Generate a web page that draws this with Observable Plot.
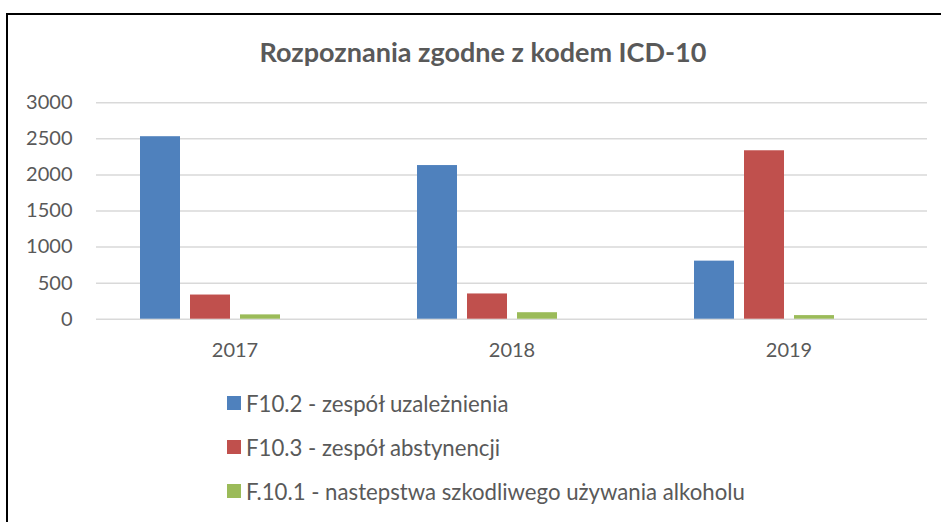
<!DOCTYPE html>
<html>
<head>
<meta charset="utf-8">
<script src="https://cdn.jsdelivr.net/npm/d3@7"></script>
<script src="https://cdn.jsdelivr.net/npm/@observablehq/plot@0.6"></script>
<style>
  html, body { margin: 0; padding: 0; background: #fff; }
  #chart { position: relative; width: 941px; height: 522px; overflow: hidden; font-family: Lato, "Liberation Sans", sans-serif; color: #595959; }
  #frame { position: absolute; left: 6px; top: 13px; width: 940px; height: 520px; border-top: 2px solid #000; border-left: 2px solid #000; }
  #title { position: absolute; left: 0; width: 966px; top: 35px; text-align: center; font-weight: bold; font-size: 27px; line-height: 34px; color: #595959; }
  #plot { position: absolute; left: 0; top: 80px; }
  .leg { position: absolute; left: 227px; height: 24px; display: flex; align-items: center; font-size: 22.2px; white-space: nowrap; }
  .leg span.sw { display: inline-block; width: 14px; height: 14px; margin-right: 5px; }
</style>
</head>
<body>
<div id="chart">
  <div id="frame"></div>
  <div id="title">Rozpoznania zgodne z kodem ICD-10</div>
  <div id="plot"></div>
  <div id="legend"></div>
</div>
<script>
const titleText = "Rozpoznania zgodne z kodem ICD-10";
const years = ["2017", "2018", "2019"];
const seriesNames = [
  "F10.2 - zespół uzależnienia",
  "F10.3 - zespół abstynencji",
  "F.10.1 - nastepstwa szkodliwego używania alkoholu"
];
const f102 = [2530, 2130, 805];
const f103 = [335, 350, 2335];
const f101 = [60, 90, 50];
const yTicks = [0, 500, 1000, 1500, 2000, 2500, 3000];
const colors = ["#4f81bd", "#c0504d", "#9bbb59"];

const seriesValues = [f102, f103, f101];
const data = years.flatMap((yr, i) =>
  seriesNames.map((s, j) => ({ year: yr, series: s, value: seriesValues[j][i] }))
);

const chart = Plot.plot({
  width: 941,
  height: 300,
  marginTop: 22.3,
  marginBottom: 61.3,
  marginLeft: 96,
  marginRight: 14,
  style: { fontFamily: "Lato, 'Liberation Sans', sans-serif", fontSize: "20px", color: "#595959", background: "transparent", overflow: "visible" },
  fx: { domain: years, padding: 0, label: null, tickSize: 0, tickPadding: 24, axis: "bottom" },
  x: { domain: [...seriesNames, "(puste)"], paddingInner: 0.208, paddingOuter: 0.85, axis: null },
  y: { domain: [0, 3000], ticks: yTicks, tickSize: 0, tickPadding: 24, label: null, tickFormat: d => String(d) },
  color: { domain: seriesNames, range: colors },
  marks: [
    Plot.ruleY(yTicks, { stroke: "#d9d9d9", strokeWidth: 1.5 }),
    Plot.barY(data, { fx: "year", x: "series", y: "value", fill: "series" })
  ]
});
document.getElementById("plot").appendChild(chart);

const legend = document.getElementById("legend");
const rowTops = [391, 435, 479];
seriesNames.forEach((s, i) => {
  const row = document.createElement("div");
  row.className = "leg";
  row.style.top = rowTops[i] + "px";
  const sw = document.createElement("span");
  sw.className = "sw";
  sw.style.background = colors[i];
  const t = document.createElement("span");
  t.textContent = s;
  row.appendChild(sw);
  row.appendChild(t);
  legend.appendChild(row);
});
</script>
</body>
</html>
